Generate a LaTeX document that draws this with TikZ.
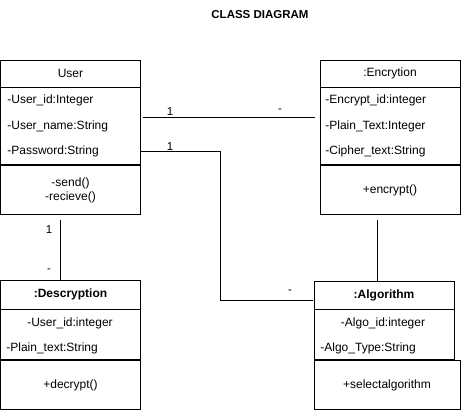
\documentclass[tikz,border=0pt]{standalone}
\usepackage{fontspec}
\setmainfont{Liberation Sans}
\usetikzlibrary{calc, positioning}

\tikzset{
	classbox/.style = {draw, rectangle, inner sep = 0pt, minimum width = 140pt},
	attr/.style = {anchor = west, inner sep = 0pt},
	mult/.style = {inner sep = 0pt, font = \fontsize{11.5}{13}\selectfont}
}

\begin{document}
\begin{tikzpicture}[x = 1pt, y = -1pt, font = \fontsize{12}{14}\selectfont, line width = 0.8pt]
			\useasboundingbox (0,0) rectangle (461,410);

			\node [font = \bfseries\fontsize{11.5}{14}\selectfont] (title) at (260,15) {CLASS DIAGRAM};

			% User
			\node [classbox, minimum height = 27pt] (userhead) at (70.5,73.5) {User};
			\node [classbox, minimum height = 77pt, below = 0pt of userhead] (userattr) {};
			\node [classbox, minimum height = 49pt, below = 0pt of userattr, align = center,
				font = \fontsize{12}{14}\selectfont] (usermeth) {-send()\\-recieve()};
			\node [attr] (userid) at (7,100.5) {-User\_id:Integer};
			\node [attr] (username) at (7,126.5) {-User\_name:String};
			\node [attr] (userpass) at (7,151.5) {-Password:String};

			% Encrytion
			\node [classbox, minimum height = 27pt] (enchead) at (390,73.5) {:Encrytion};
			\node [classbox, minimum height = 77pt, below = 0pt of enchead] (encattr) {};
			\node [classbox, minimum height = 49pt, below = 0pt of encattr] (encmeth) {+encrypt()};
			\node [attr] (encid) at (325,100.5) {-Encrypt\_id:integer};
			\node [attr] (encplain) at (325,126.5) {-Plain\_Text:Integer};
			\node [attr] (enccipher) at (325,151.5) {-Cipher\_text:String};

			% Descryption
			\node [classbox, minimum height = 29pt, font = \bfseries\fontsize{12}{14}\selectfont] (deshead) at (70.5,294.5) {:Descryption};
			\node [classbox, minimum height = 50pt, below = 0pt of deshead] (desattr) {};
			\node [classbox, minimum height = 49pt, below = 0pt of desattr] (desmeth) {+decrypt()};
			\node (desid) at (70,323) {-User\_id:integer};
			\node [attr] (desplain) at (6,348) {-Plain\_text:String};

			% Algorithm
			\node [classbox, minimum height = 28pt, font = \bfseries\fontsize{12}{14}\selectfont] (alghead) at (384,295) {:Algorithm};
			\node [classbox, minimum height = 50pt, below = 0pt of alghead] (algattr) {};
			\node [classbox, minimum height = 49pt, minimum width = 146pt, anchor = north west] (algmeth) at (algattr.south west) {+selectalgorithm};
			\node (algid) at (383,323) {-Algo\_id:integer};
			\node [attr] (algtype) at (320,348) {-Algo\_Type:String};

			% connectors
			\coordinate (u1) at (143,117);
			\coordinate (e1) at (315,117);
			\coordinate (u2) at (141,151);
			\coordinate (a2) at (313,300);
			\coordinate (u3) at (60.5,220);
			\coordinate (e4) at (377.5,220);

			\draw (u1) -- (e1);
			\draw (u2) -| (220,300) -- (a2);
			\draw (u3) -- (u3 |- deshead.north);
			\draw (e4) -- (e4 |- alghead.north);

			\node [mult] (m1a) at (170,112) {1};
			\node [mult] (m1b) at (280,111) {-};
			\node [mult] (m2a) at (170,147) {1};
			\node [mult] (m2b) at (290,292) {-};
			\node [mult] (m3a) at (49,230) {1};
			\node [mult] (m3b) at (49,271) {-};
		\end{tikzpicture}
\end{document}
